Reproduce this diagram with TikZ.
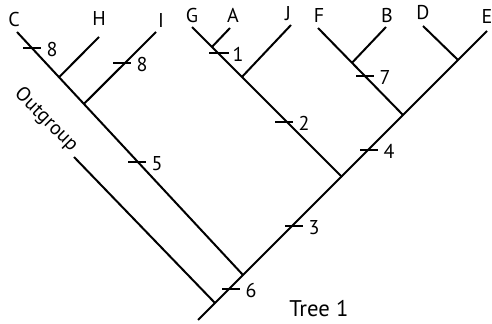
\documentclass[tikz,border=0pt]{standalone}
\usepackage{fontspec}
\setmainfont{PT Sans}
\usetikzlibrary{calc}
\begin{document}
\begin{tikzpicture}[x=0.75pt,y=-0.75pt,
  br/.style={line width=1.5pt, line cap=butt},
  tk/.style={line width=1.5pt},
  lbl/.style={font=\fontsize{15}{15}\selectfont, inner sep=0pt, anchor=base},
  num/.style={font=\fontsize{15}{15}\selectfont, inner sep=0pt, anchor=west, xshift=3.5pt, yshift=-1.1pt},
  ttl/.style={font=\fontsize{17}{17}\selectfont, inner sep=0pt, anchor=base west}]
\useasboundingbox (0,0) rectangle (492,324);
% main backbone
\coordinate (root) at (198,320);
\coordinate (r0) at (215,303);
\coordinate (r1) at (243,275);
\coordinate (r2) at (342,177);
\coordinate (r3) at (403,115);
\coordinate (tE) at (487,31);
\coordinate (og) at (74,157);
% C clade
\coordinate (tC) at (17,32);
\coordinate (ch) at ($(tC)!0.186!(r1)$);
\coordinate (ci) at ($(tC)!0.296!(r1)$);
\coordinate (tH) at (99,37);
\coordinate (tI) at (156,32);
% G clade
\coordinate (tG) at (192,27);
\coordinate (ga) at ($(tG)!0.133!(r2)$);
\coordinate (gj) at ($(tG)!0.333!(r2)$);
\coordinate (tA) at (230,28);
\coordinate (tJ) at (291,25);
% F clade
\coordinate (tF) at (318,28);
\coordinate (fb) at ($(tF)!0.4!(r3)$);
\coordinate (tB) at (386,27);
\coordinate (ed) at (458,60);
\coordinate (tD) at (423,26);

% branches
\draw[br] (root) -- (tE);
\draw[br] (r0) -- (og);
\draw[br] (r1) -- (tC);
\draw[br] (ch) -- (tH);
\draw[br] (ci) -- (tI);
\draw[br] (r2) -- (tG);
\draw[br] (ga) -- (tA);
\draw[br] (gj) -- (tJ);
\draw[br] (r3) -- (tF);
\draw[br] (fb) -- (tB);
\draw[br] (ed) -- (tD);

% tip labels
\node[lbl] (lC) at (14,27) {C};
\node[lbl] (lH) at (99,26) {H};
\node[lbl] (lI) at (161,28) {I};
\node[lbl] (lG) at (192,23) {G};
\node[lbl] (lA) at (233,23) {A};
\node[lbl] (lJ) at (288,21) {J};
\node[lbl] (lF) at (319,23) {F};
\node[lbl] (lB) at (387,23) {B};
\node[lbl] (lD) at (423,20) {D};
\node[lbl] (lE) at (487,24) {E};

% outgroup label
\node[font=\fontsize{15}{15}\selectfont, inner sep=0pt, rotate=-45] (lOG) at (46,120) {Outgroup};

% ticks with labels
\draw[tk] (23,48) -- (41,48) node[num] (n8a) {8};
\draw[tk] (113,63) -- (131,63) node[num] (n8b) {8};
\draw[tk] (128,162) -- (146,162) node[num] (n5) {5};
\draw[tk] (222,289) -- (240,289) node[num] (n6) {6};
\draw[tk] (285,226) -- (303,226) node[num] (n3) {3};
\draw[tk] (360,150) -- (378,150) node[num] (n4) {4};
\draw[tk] (275,122) -- (293,122) node[num] (n2) {2};
\draw[tk] (209,53) -- (229,53) node[num,xshift=-1.5pt] (n1) {1};
\draw[tk] (356,76) -- (374,76) node[num] (n7) {7};

% title
\node[ttl] (title) at (289,316) {Tree 1};
\end{tikzpicture}
\end{document}
